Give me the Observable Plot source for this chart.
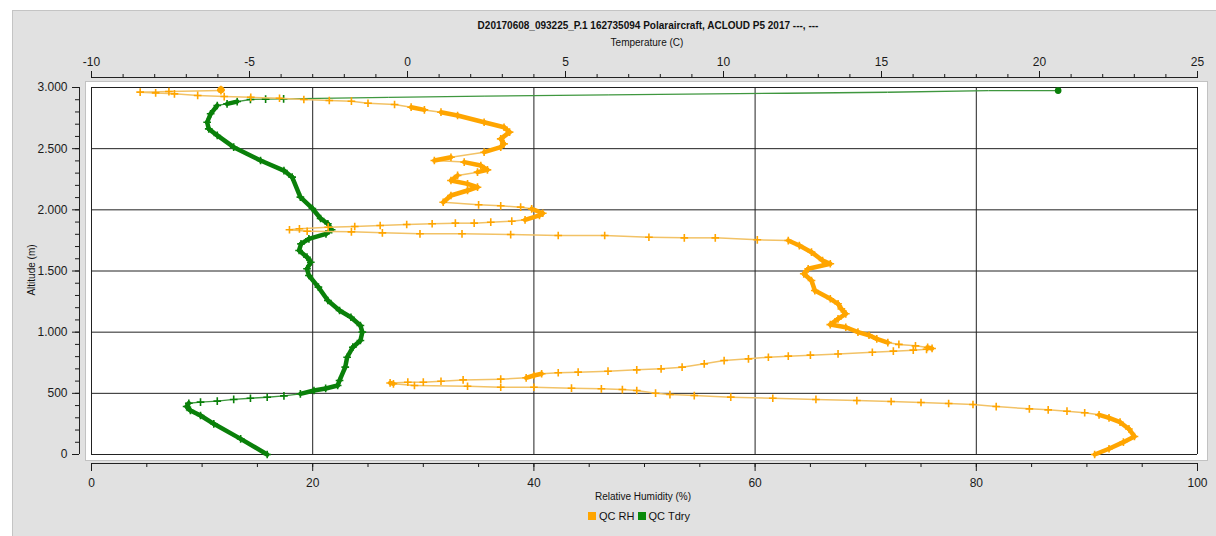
<!DOCTYPE html>
<html><head><meta charset="utf-8">
<script src="https://cdn.jsdelivr.net/npm/d3@7"></script>
<script src="https://cdn.jsdelivr.net/npm/@observablehq/plot@0.6"></script>
<style>
body{margin:0;background:#fff;font-family:"Liberation Sans",Arial,sans-serif;width:1216px;height:536px;overflow:hidden;position:relative;}
#panel{position:absolute;left:12px;top:10px;width:1204px;height:526px;background:#e1e1e1;border-left:1px solid #c4c4c4;border-top:1px solid #c4c4c4;}
.t{position:absolute;white-space:nowrap;color:#111;}
#chart{position:absolute;left:0;top:50px;}
.sw{display:inline-block;width:8px;height:8px;vertical-align:-0px;margin-right:3px;}
</style></head><body>
<div id="panel"></div>
<div class="t" style="left:0;width:1296px;text-align:center;top:20px;font-weight:bold;font-size:10px;">D20170608_093225_P.1 162735094 Polaraircraft, ACLOUD P5 2017 ---, ---</div>
<div class="t" style="left:0;width:1294px;text-align:center;top:37px;font-size:10px;">Temperature (C)</div>
<div class="t" style="left:31px;top:270px;font-size:10px;transform:translate(-50%,-50%) rotate(-90deg);">Altitude (m)</div>
<div id="chart"></div>
<div class="t" style="left:0;width:1286px;text-align:center;top:491px;font-size:10px;">Relative Humidity (%)</div>
<div class="t" style="left:0;width:1278px;text-align:center;top:510px;font-size:11px;"><span class="sw" style="background:#ffa500"></span>QC RH <span class="sw" style="background:#0a8a0a"></span>QC Tdry</div>
<script>
// ---- data ----
const rhValues = [90.7, 92.0, 93.3, 94.3, 93.8, 93.0, 92.0, 91.1, 89.8, 88.2, 86.5, 84.8, 81.8, 79.7, 77.5, 75.0, 72.3, 69.2, 65.5, 61.6, 57.8, 54.5, 52.3, 51.0, 49.3, 48.0, 46.1, 43.4, 40.0, 37.0, 34.0, 29.2, 27.3, 27.0, 28.6, 30.0, 31.6, 33.6, 37.0, 39.3, 40.0, 40.7, 42.2, 44.0, 46.7, 49.3, 51.5, 53.4, 55.4, 57.2, 59.4, 61.2, 63.0, 65.0, 67.5, 70.6, 72.5, 74.3, 75.5, 76.0, 75.6, 74.5, 73.0, 72.0, 71.0, 70.3, 69.3, 68.2, 66.8, 67.5, 68.2, 67.8, 67.5, 66.8, 65.4, 65.1, 64.4, 64.8, 66.8, 66.1, 65.1, 64.0, 63.0, 60.2, 56.4, 53.6, 50.4, 46.4, 42.2, 37.9, 33.5, 29.7, 26.3, 23.5, 19.5, 17.9, 18.8, 21.4, 23.8, 26.1, 28.5, 30.8, 32.9, 34.6, 36.1, 38.0, 39.2, 40.5, 40.8, 39.8, 38.8, 37.0, 35.0, 31.8, 32.5, 34.0, 34.9, 34.0, 32.5, 33.1, 34.9, 35.8, 35.2, 33.7, 31.0, 32.5, 35.5, 37.0, 37.3, 37.0, 37.8, 37.3, 35.5, 33.1, 31.6, 30.1, 28.9, 27.4, 25.0, 23.5, 21.5, 19.2, 17.0, 14.4, 12.0, 9.6, 7.5, 5.8, 4.4, 7.0, 11.7, 11.7];
const rhAltitude = [0, 47, 101, 147, 209, 264, 300, 324, 341, 354, 365, 373, 392, 409, 417, 425, 433, 441, 450, 460, 469, 482, 490, 501, 523, 531, 537, 542, 550, 550, 558, 564, 578, 585, 591, 591, 599, 610, 616, 627, 646, 660, 668, 673, 681, 692, 700, 714, 741, 768, 782, 795, 804, 812, 822, 836, 845, 853, 860, 867, 875, 888, 900, 915, 945, 975, 1000, 1040, 1062, 1109, 1150, 1190, 1232, 1273, 1340, 1422, 1477, 1518, 1559, 1586, 1654, 1708, 1749, 1755, 1771, 1771, 1776, 1790, 1790, 1798, 1804, 1804, 1812, 1820, 1825, 1837, 1845, 1858, 1864, 1872, 1880, 1886, 1891, 1891, 1899, 1907, 1918, 1954, 1972, 2008, 2022, 2033, 2041, 2062, 2117, 2158, 2185, 2212, 2240, 2281, 2308, 2327, 2362, 2390, 2403, 2430, 2471, 2512, 2539, 2580, 2635, 2675, 2716, 2771, 2798, 2817, 2839, 2861, 2871, 2888, 2894, 2902, 2912, 2920, 2926, 2935, 2948, 2956, 2962, 2967, 2975, 2982];

const tdryValues = [-4.44, -5.28, -6.13, -6.55, -6.87, -6.99, -6.92, -6.55, -6.02, -5.50, -4.97, -4.44, -3.91, -3.39, -2.96, -2.59, -2.21, -2.15, -1.97, -1.91, -1.73, -1.49, -1.43, -1.49, -1.79, -2.15, -2.52, -2.82, -3.12, -3.18, -3.06, -3.18, -3.43, -3.37, -3.12, -2.58, -2.40, -2.52, -2.75, -3.01, -3.39, -3.65, -3.91, -4.65, -5.50, -6.02, -6.29, -6.34, -6.23, -6.02, -5.71, -5.39, -4.97, -4.49, -3.92, -0.61, 2.45, 6.35, 12.01, 15.19, 18.38, 20.59];
const tdryAltitude = [0, 128, 251, 319, 360, 392, 419, 428, 436, 450, 460, 468, 479, 496, 523, 540, 564, 605, 714, 795, 877, 932, 1000, 1054, 1122, 1177, 1259, 1368, 1463, 1518, 1572, 1613, 1668, 1722, 1763, 1804, 1837, 1886, 1929, 2011, 2104, 2267, 2321, 2403, 2512, 2608, 2662, 2716, 2785, 2853, 2866, 2885, 2902, 2905, 2907, 2920, 2929, 2940, 2953, 2961, 2975, 2975];

const rhDomain = [0, 100];
const tempDomain = [-10, 25];
const altDomain = [0, 3000];
const rhMajorTicks = [0, 20, 40, 60, 80, 100];
const rhMinorTicks = d3.range(0, 101, 5);
const tempMajorTicks = [-10, -5, 0, 5, 10, 15, 20, 25];
const tempMinorTicks = d3.range(-10, 26, 1);
const altMajorTicks = [0, 500, 1000, 1500, 2000, 2500, 3000];
const altMinorTicks = d3.range(0, 3001, 100);

// ---- layout ----
const W = 1216, H = 440, ML = 91, MR = 19, MT = 37, MB = 36;
const pxPerX = (W - ML - MR) / (rhDomain[1] - rhDomain[0]);
const pxPerY = (H - MT - MB) / (altDomain[1] - altDomain[0]);
const toX = t => (t - tempDomain[0]) / (tempDomain[1] - tempDomain[0]) * (rhDomain[1] - rhDomain[0]) + rhDomain[0];
const fromX = x => Math.round((x - rhDomain[0]) / (rhDomain[1] - rhDomain[0]) * (tempDomain[1] - tempDomain[0]) + tempDomain[0]);
const altFmt = d => d3.format(",")(d).replace(/,/g, ".");

function series(xs, ys) {
  return xs.map((x, i) => ({x, y: ys[i]}));
}
function segments(pts) {
  const out = [];
  for (let i = 1; i < pts.length; i++) {
    const a = pts[i - 1], b = pts[i];
    const dxp = Math.abs(b.x - a.x) * pxPerX, dyp = Math.abs(b.y - a.y) * pxPerY;
    out.push({x1: a.x, y1: a.y, x2: b.x, y2: b.y, dense: dxp <= 6 * dyp});
  }
  return out;
}
const rhPts = series(rhValues, rhAltitude);
const tdPts = series(tdryValues.map(toX), tdryAltitude);
const rhSeg = segments(rhPts), tdSeg = segments(tdPts);

const chart = Plot.plot({
  width: W, height: H,
  marginLeft: ML, marginRight: MR, marginTop: MT, marginBottom: MB,
  x: {domain: rhDomain},
  y: {domain: altDomain},
  style: {background: "transparent", fontSize: "12px", fontFamily: "Liberation Sans, Arial, sans-serif", color: "#1a1a1a"},
  marks: [
    Plot.frame({fill: "white", stroke: "#c2c2c2", insetLeft: -6, insetTop: -6, insetRight: -10, insetBottom: -6}),
    Plot.ruleX(rhMajorTicks, {stroke: "#222", strokeWidth: 1}),
    Plot.ruleY(altMajorTicks, {stroke: "#222", strokeWidth: 1}),
    // axis lines
    Plot.ruleY([altDomain[0]], {dy: 9, stroke: "#222"}),
    Plot.ruleY([altDomain[1]], {dy: -10, stroke: "#222"}),
    Plot.ruleX([rhDomain[0]], {dx: -12, stroke: "#222"}),
    // axes
    Plot.axisY(altMinorTicks, {tickSize: 4, dx: -12, tickFormat: () => "", label: null}),
    Plot.axisY(altMajorTicks, {tickSize: 7, dx: -12, tickPadding: 5, tickFormat: altFmt, label: null}),
    Plot.axisX(rhMinorTicks, {anchor: "bottom", tickSize: 4, dy: 9, tickFormat: () => "", label: null}),
    Plot.axisX(rhMajorTicks, {anchor: "bottom", tickSize: 8, dy: 9, tickPadding: 7, label: null}),
    Plot.axisX(tempMinorTicks.map(toX), {anchor: "top", tickSize: 4, dy: -10, tickFormat: () => "", label: null}),
    Plot.axisX(tempMajorTicks.map(toX), {anchor: "top", tickSize: 7, dy: -10, tickPadding: 5, tickFormat: fromX, label: null}),
    // Tdry
    Plot.link(tdSeg.filter(d => !d.dense), {x1: "x1", y1: "y1", x2: "x2", y2: "y2", stroke: "#3f973f", strokeWidth: 1.3}),
    Plot.link(tdSeg.filter(d => d.dense), {x1: "x1", y1: "y1", x2: "x2", y2: "y2", stroke: "#0a800a", strokeWidth: 4.5, strokeLinecap: "round"}),
    Plot.dot(tdPts.slice(0, tdPts.length - 7), {x: "x", y: "y", symbol: "plus", r: 2.6, stroke: "#0a800a", strokeWidth: 1.6}),
    Plot.dot(tdPts.slice(-1), {x: "x", y: "y", r: 2.6, fill: "#0a800a", stroke: "#0a800a"}),
    // RH
    Plot.link(rhSeg.filter(d => !d.dense), {x1: "x1", y1: "y1", x2: "x2", y2: "y2", stroke: "#f2c266", strokeWidth: 1.5}),
    Plot.link(rhSeg.filter(d => d.dense), {x1: "x1", y1: "y1", x2: "x2", y2: "y2", stroke: "#ffa500", strokeWidth: 4.5, strokeLinecap: "round"}),
    Plot.dot(rhPts, {x: "x", y: "y", symbol: "plus", r: 2.6, stroke: "#ffa500", strokeWidth: 1.6}),
    Plot.dot(rhPts.slice(-1), {x: "x", y: "y", r: 2.8, fill: "#ffa500", stroke: "#ffa500"})
  ]
});
document.getElementById("chart").appendChild(chart);
</script>
</body></html>
